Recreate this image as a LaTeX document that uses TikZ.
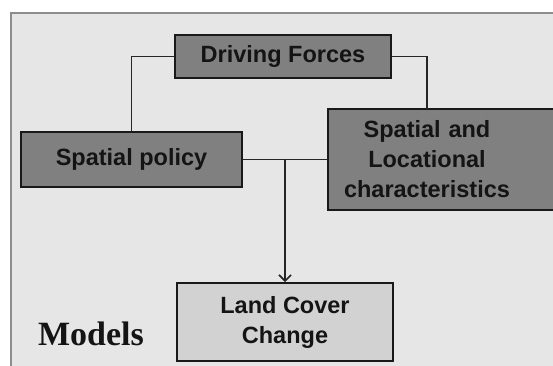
\documentclass[tikz,border=0pt]{standalone}
\usepackage{fontspec}
\setmainfont{Liberation Serif}
\setsansfont{Liberation Sans}
\definecolor{framegray}{RGB}{140, 140, 140}
\definecolor{panelgray}{RGB}{230, 230, 230}
\definecolor{boxdark}{RGB}{128, 128, 128}
\definecolor{boxlight}{RGB}{210, 210, 210}
\definecolor{inktext}{RGB}{20, 20, 20}
\usetikzlibrary{arrows.meta, positioning, calc, backgrounds}

\begin{document}
\begin{tikzpicture}[x=1pt, y=-1pt,
  darkbox/.style={draw=black!90, line width=2pt, fill=boxdark, text=inktext, font=\sffamily\bfseries\fontsize{23.5}{30}\selectfont, align=center, inner sep=0pt},
  lightbox/.style={darkbox, fill=boxlight},
  link/.style={draw=black!85, line width=1.8pt}]
  \useasboundingbox (0,0) rectangle (553,365);

  % Driving forces
  \node[darkbox, minimum width=216, minimum height=43] (forces) at (283,56.5) {Driving Forces};

  % Spatial policy
  \node[darkbox, minimum width=221, minimum height=55] (policy) at (131.5,159.5) {Spatial policy};

  % Spatial and locational characteristics (box runs off the right edge)
  \node[darkbox, draw=none, fill=none, minimum width=196, minimum height=99, text width=190] (spatial) at (427,159.5) {Spatial and\\Locational\\characteristics};

  % Land cover change
  \node[lightbox, minimum width=216, minimum height=78] (land) at (285,322) {Land Cover\\Change};

  \node[font=\bfseries\fontsize{34}{40}\selectfont, text=inktext, anchor=base] (models) at (91,345) {Models};

  % connectors
  \coordinate (join) at (policy.east -| land.north);
  \draw[link] (forces.west) -| (policy.north);
  \draw[link] (forces.east) -| (spatial.north);
  \draw[link] (policy.east) -- (spatial.west);
  \draw[link, -{Straight Barb[length=6pt, width=12pt, line width=1.6pt]}] (join) -- (land.north);

  \begin{scope}[on background layer]
    \fill[white] (0,0) rectangle (553,365);
    \draw[draw=framegray, line width=2pt, fill=panelgray] (11,13) rectangle (590,390);
    \draw[draw=black!90, line width=2pt, fill=boxdark] (spatial.north west) rectangle ([xshift=60]spatial.south east);
  \end{scope}
\end{tikzpicture}
\end{document}
